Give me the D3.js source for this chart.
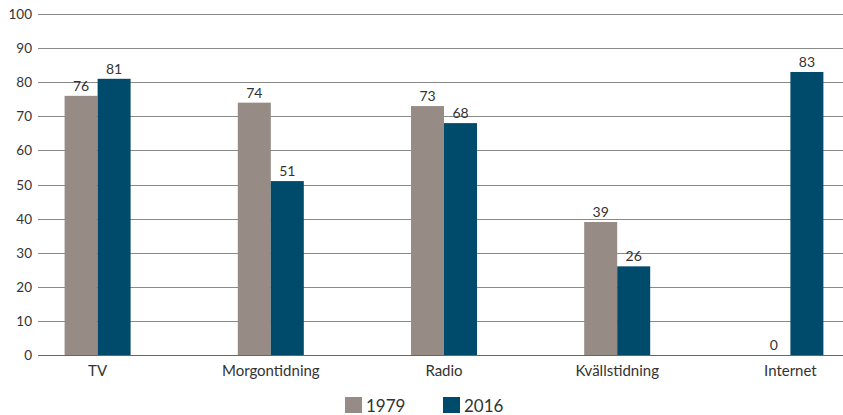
<!DOCTYPE html>
<html>
<head>
<meta charset="utf-8">
<script src="https://cdn.jsdelivr.net/npm/d3@7"></script>
<style>
  body { margin: 0; background: #fff; }
  text { font-family: Lato, "Noto Sans", sans-serif; fill: #333; }
</style>
</head>
<body>
<script>
var width = 843;
var height = 415;

var categories = ["TV", "Morgontidning", "Radio", "Kvällstidning", "Internet"];
var series = ["1979", "2016"];
var values1979 = [76, 74, 73, 39, 0];
var values2016 = [81, 51, 68, 26, 83];
var yTicks = [0, 10, 20, 30, 40, 50, 60, 70, 80, 90, 100];
var colors = ["#968b85", "#004b6b"];

var svg = d3.select("body").append("svg")
    .attr("width", width).attr("height", height);

var x = d3.scaleBand().domain(categories).range([11, 877]);
var xs = d3.scaleBand().domain(series).range([-33, 33]);
var y = d3.scaleLinear().domain([0, 100]).range([355, 14]);

// grid lines
svg.selectAll("line.grid").data(yTicks).enter().append("line")
    .attr("class", "grid")
    .attr("x1", 38).attr("x2", width)
    .attr("y1", function (d) { return Math.round(y(d)) + 0.5; })
    .attr("y2", function (d) { return Math.round(y(d)) + 0.5; })
    .attr("stroke", "#8a8a8a").attr("stroke-width", 1);

svg.selectAll("text.ytick").data(yTicks).enter().append("text")
    .attr("class", "ytick")
    .attr("x", 32).attr("y", function (d) { return y(d) + 5; })
    .attr("text-anchor", "end").attr("font-size", "13.5px")
    .text(function (d) { return d; });

var rows = categories.map(function (c, i) {
    return [{ c: c, s: "1979", v: values1979[i] }, { c: c, s: "2016", v: values2016[i] }];
});

var groups = svg.selectAll("g.cat").data(rows).enter().append("g")
    .attr("class", "cat")
    .attr("transform", function (d) { return "translate(" + (x(d[0].c) + x.bandwidth() / 2) + ",0)"; });

groups.selectAll("rect").data(function (d) { return d; }).enter().append("rect")
    .attr("x", function (d) { return xs(d.s); })
    .attr("width", xs.bandwidth())
    .attr("y", function (d) { return y(d.v); })
    .attr("height", function (d) { return y(0) - y(d.v); })
    .attr("fill", function (d, i) { return colors[i]; });

groups.selectAll("text").data(function (d) { return d; }).enter().append("text")
    .attr("x", function (d) { return xs(d.s) + xs.bandwidth() / 2; })
    .attr("y", function (d) { return y(d.v) - 5; })
    .attr("text-anchor", "middle").attr("font-size", "14px")
    .text(function (d) { return d.v; });

// zero line on top
svg.append("line")
    .attr("x1", 38).attr("x2", width)
    .attr("y1", Math.round(y(0)) + 0.5).attr("y2", Math.round(y(0)) + 0.5)
    .attr("stroke", "#666").attr("stroke-width", 1);

svg.selectAll("text.xlab").data(categories).enter().append("text")
    .attr("class", "xlab")
    .attr("x", function (d) { return x(d) + x.bandwidth() / 2; })
    .attr("y", 376)
    .attr("text-anchor", "middle").attr("font-size", "15px")
    .text(function (d) { return d; });

// legend
var legend = svg.selectAll("g.legend").data(series).enter().append("g")
    .attr("class", "legend")
    .attr("transform", function (d, i) { return "translate(" + (345 + i * 98) + ",397)"; });

legend.append("rect").attr("width", 17).attr("height", 16)
    .attr("fill", function (d, i) { return colors[i]; });
legend.append("text").attr("x", 21).attr("y", 15)
    .attr("font-size", "17px")
    .text(function (d) { return d; });
</script>
</body>
</html>
